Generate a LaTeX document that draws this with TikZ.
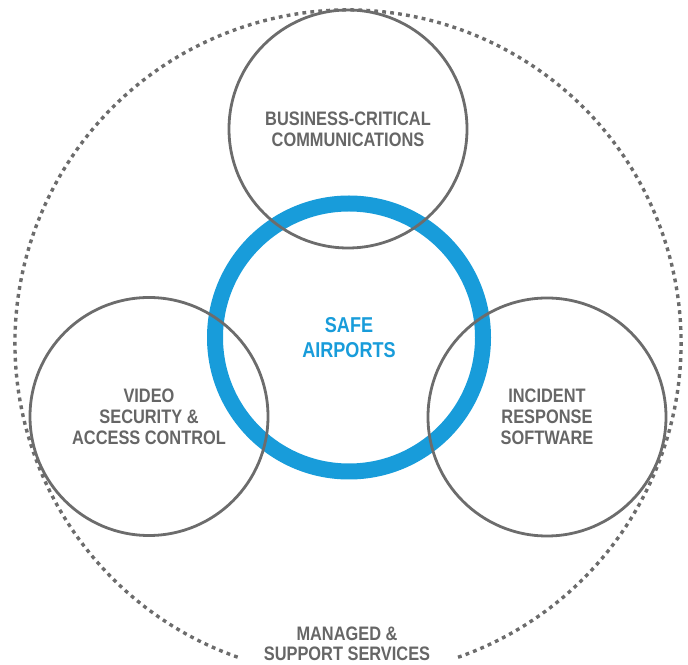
\documentclass[tikz,border=0pt]{standalone}
\usepackage{fontspec}
\setmainfont{Liberation Sans}
\definecolor{ringgray}{RGB}{108,108,108}
\definecolor{textgray}{RGB}{102,102,102}
\definecolor{safeblue}{RGB}{24,156,218}
% condensed bold label, several lines
\newcommand{\narrowlabel}[1]{\raisebox{-2.8pt}[\height][\depth]{%
    \scalebox{0.84}[1]{\begin{tabular}{@{}c@{}}#1\end{tabular}}}}
\begin{document}
\begin{tikzpicture}[
    x=1pt, y=1pt,
    area/.style={circle, draw=ringgray, line width=2.8, minimum size=238,
        text=textgray, font=\bfseries\fontsize{19.5}{21}\selectfont},
    core/.style={circle, draw=safeblue, line width=16, minimum size=268,
        text=safeblue, font=\bfseries\fontsize{21.5}{25}\selectfont},
    services/.style={text=textgray,
        font=\bfseries\fontsize{19.5}{19.5}\selectfont}
]

    % Fix the canvas to the reference size
    \useasboundingbox (0,0) rectangle (688,664);

    % Outer dotted ring, open at the bottom
    \coordinate (O) at (348,321);
    \draw[ringgray, line width=3.4, dash pattern=on 3.8 off 4.2]
        ([shift={(-70.7:333)}]O) arc[start angle=-70.7, end angle=250.7, radius=333];

    % Central ring
    \node[core] (safe) at (349,326.5) {\narrowlabel{SAFE\\AIRPORTS}};

    % Surrounding areas
    \node[area] (comms) at (348,535) {\narrowlabel{BUSINESS-CRITICAL\\COMMUNICATIONS}};
    \node[area] (video) at (149,247.5) {\narrowlabel{VIDEO\\SECURITY \&\\ACCESS CONTROL}};
    \node[area] (incident) at (547,247) {\narrowlabel{INCIDENT\\RESPONSE\\SOFTWARE}};

    % Label in the gap of the outer ring
    \node[services] (managed) at (347,20) {\narrowlabel{MANAGED \&\\SUPPORT SERVICES}};

\end{tikzpicture}
\end{document}
